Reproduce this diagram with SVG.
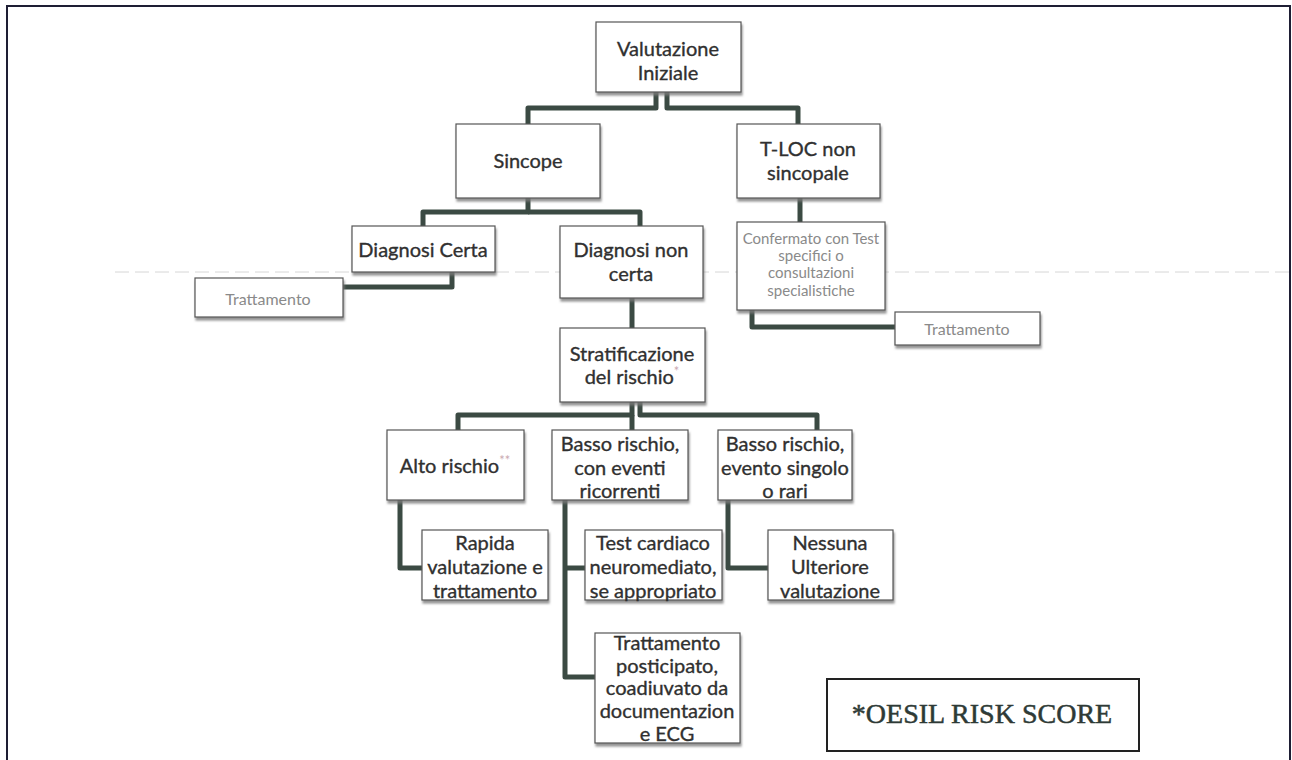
<svg xmlns="http://www.w3.org/2000/svg" width="1292" height="760" viewBox="0 0 1292 760">
  <defs>
    <filter id="shadow" x="-5%" y="-5%" width="115%" height="125%">
      <feGaussianBlur in="SourceAlpha" stdDeviation="1.2"/>
      <feOffset dx="1" dy="3" result="b"/>
      <feFlood flood-color="#7a7a7a" flood-opacity="0.8"/>
      <feComposite in2="b" operator="in"/>
      <feMerge><feMergeNode/><feMergeNode in="SourceGraphic"/></feMerge>
    </filter>
  </defs>
  <style>
    .box { fill: #ffffff; stroke: #555555; stroke-width: 1.2; filter: url(#shadow); }
    .t { font-family: Lato, "Open Sans", sans-serif; font-size: 20px; fill: #303030; stroke: #303030; stroke-width: 0.35; text-anchor: middle; dominant-baseline: central; }
    .s { font-family: Lato, "Open Sans", sans-serif; font-size: 16px; fill: #8a8a8a; text-anchor: middle; dominant-baseline: central; }
    .s2 { font-size: 15px; }
    .ast { fill: #c9a8b0; stroke: none; }
    .conn { fill: none; stroke: #3b4a43; stroke-width: 5; stroke-linejoin: round; }
    .frame { fill: none; stroke: #1e1e34; stroke-width: 2; }
    .legend { fill: #ffffff; stroke: #222222; stroke-width: 2; }
    .lt { font-family: "Liberation Serif", "Times New Roman", serif; font-size: 28px; fill: #2e3a36; stroke: #2e3a36; stroke-width: 0.5; text-anchor: middle; dominant-baseline: central; }
  </style>

  <rect x="0" y="0" width="1292" height="760" fill="#ffffff"/>
  <!-- page frame -->
  <path class="frame" d="M7,770 V6 H1290 V770"/>
  <!-- faint ruled line across the page -->
  <line x1="115" y1="272" x2="1289" y2="272" stroke="#d6d6d6" stroke-width="1" stroke-dasharray="14 6"/>

  <g id="connectors">
    <path class="conn" d="M656,92 V108 H528 V124"/>
    <path class="conn" d="M667,92 V108 H798 V124"/>
    <path class="conn" d="M528,198 V212 H423 V226"/>
    <path class="conn" d="M528,212 H640 V226"/>
    <path class="conn" d="M452,272 V287 H343"/>
    <path class="conn" d="M800,198 V222"/>
    <path class="conn" d="M752,310 V327 H895"/>
    <path class="conn" d="M632,298 V328"/>
    <path class="conn" d="M632,402 V415 H458 V430"/>
    <path class="conn" d="M640,402 V415 H817 V430"/>
    <path class="conn" d="M632,415 V430"/>
    <path class="conn" d="M400,500 V568 H422"/>
    <path class="conn" d="M565,500 V677 H595"/>
    <path class="conn" d="M565,568 H585"/>
    <path class="conn" d="M728,500 V568 H768"/>
  </g>

  <g id="valutazione">
    <rect class="box" x="596" y="22" width="145" height="70"/>
    <text class="t" x="668" y="48">Valutazione</text>
    <text class="t" x="668" y="72">Iniziale</text>
  </g>
  <g id="sincope">
    <rect class="box" x="456" y="124" width="144" height="74"/>
    <text class="t" x="528" y="160">Sincope</text>
  </g>
  <g id="tloc">
    <rect class="box" x="737" y="124" width="143" height="74"/>
    <text class="t" x="808" y="148">T-LOC non</text>
    <text class="t" x="808" y="172">sincopale</text>
  </g>
  <g id="diagnosi-certa">
    <rect class="box" x="352" y="226" width="143" height="46"/>
    <text class="t" x="423" y="249">Diagnosi Certa</text>
  </g>
  <g id="trattamento-1">
    <rect class="box" x="195" y="278" width="148" height="39"/>
    <text class="s" x="268" y="298">Trattamento</text>
  </g>
  <g id="diagnosi-non-certa">
    <rect class="box" x="560" y="226" width="143" height="72"/>
    <text class="t" x="631" y="249">Diagnosi non</text>
    <text class="t" x="631" y="273">certa</text>
  </g>
  <g id="confermato">
    <rect class="box" x="737" y="222" width="148" height="88"/>
    <text class="s s2" x="811" y="238">Confermato con Test</text>
    <text class="s s2" x="811" y="255">specifici o</text>
    <text class="s s2" x="811" y="272">consultazioni</text>
    <text class="s s2" x="811" y="290">specialistiche</text>
  </g>
  <g id="trattamento-2">
    <rect class="box" x="895" y="312" width="145" height="33"/>
    <text class="s" x="967" y="328">Trattamento</text>
  </g>
  <g id="stratificazione">
    <rect class="box" x="560" y="328" width="145" height="74"/>
    <text class="t" x="632" y="353">Stratificazione</text>
    <text class="t" x="632" y="376">del rischio<tspan class="ast" font-size="13" dy="-5">*</tspan></text>
  </g>
  <g id="alto-rischio">
    <rect class="box" x="387" y="430" width="137" height="70"/>
    <text class="t" x="455" y="465">Alto rischio<tspan class="ast" font-size="13" dy="-5">**</tspan></text>
  </g>
  <g id="basso-ricorrenti">
    <rect class="box" x="552" y="430" width="136" height="70"/>
    <text class="t" x="620" y="443">Basso rischio,</text>
    <text class="t" x="620" y="467">con eventi</text>
    <text class="t" x="620" y="490">ricorrenti</text>
  </g>
  <g id="basso-singolo">
    <rect class="box" x="718" y="430" width="134" height="70"/>
    <text class="t" x="785" y="443">Basso rischio,</text>
    <text class="t" x="785" y="467">evento singolo</text>
    <text class="t" x="785" y="490">o rari</text>
  </g>
  <g id="rapida">
    <rect class="box" x="422" y="530" width="126" height="70"/>
    <text class="t" x="485" y="542">Rapida</text>
    <text class="t" x="485" y="566">valutazione e</text>
    <text class="t" x="485" y="590">trattamento</text>
  </g>
  <g id="test-cardiaco">
    <rect class="box" x="585" y="530" width="137" height="70"/>
    <text class="t" x="653" y="542">Test cardiaco</text>
    <text class="t" x="653" y="566">neuromediato,</text>
    <text class="t" x="653" y="590">se appropriato</text>
  </g>
  <g id="nessuna">
    <rect class="box" x="768" y="530" width="125" height="70"/>
    <text class="t" x="830" y="542">Nessuna</text>
    <text class="t" x="830" y="566">Ulteriore</text>
    <text class="t" x="830" y="590">valutazione</text>
  </g>
  <g id="trattamento-posticipato">
    <rect class="box" x="595" y="633" width="145" height="110"/>
    <text class="t" x="667" y="642">Trattamento</text>
    <text class="t" x="667" y="665">posticipato,</text>
    <text class="t" x="667" y="687">coadiuvato da</text>
    <text class="t" x="667" y="710">documentazion</text>
    <text class="t" x="667" y="733">e ECG</text>
  </g>
  <g id="oesil-legend">
    <rect class="legend" x="827" y="679" width="312" height="72"/>
    <text class="lt" x="982" y="713">*OESIL RISK SCORE</text>
  </g>
</svg>
